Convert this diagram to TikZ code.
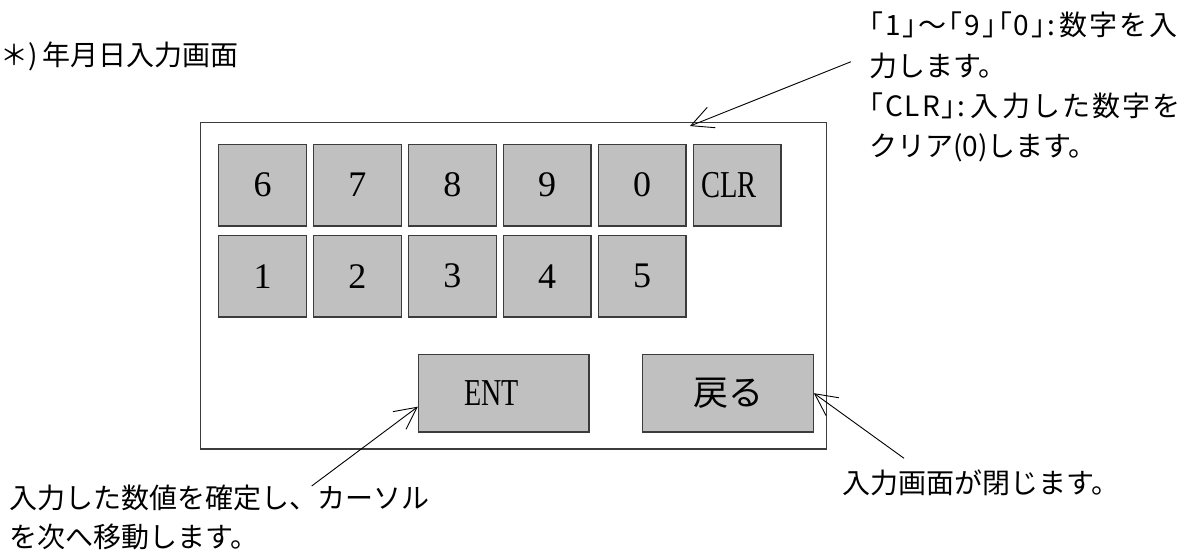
\documentclass[tikz,border=0pt]{standalone}
\usepackage{fontspec}
\setmainfont{Liberation Serif}
\newfontfamily\jpfont{Noto Sans CJK JP}
\usetikzlibrary{arrows.meta}
\definecolor{keygray}{HTML}{C0C0C0}
\definecolor{edgegray}{HTML}{3C3C3C}
\begin{document}
\begin{tikzpicture}[x=1pt,y=-1pt,
  keybox/.style={draw=edgegray, line width=1.3pt, fill=keygray,
    minimum width=87.7pt, minimum height=81.7pt, inner sep=0pt,
    font=\fontsize{36}{36}\selectfont},
  bigbtn/.style={keybox, minimum width=170.4pt, minimum height=77.7pt},
  note/.style={font=\jpfont\fontsize{28}{40}\selectfont, inner sep=0pt, anchor=base west},
  wide/.style={font=\jpfont\fontsize{28}{40}\selectfont\addfontfeature{LetterSpace=7}},
  callout/.style={-{Straight Barb[length=22pt,width=22pt]}, line width=0.9pt}]
\useasboundingbox (0,0) rectangle (1197,553);
\fill[white] (0,0) rectangle (1197,553);
% frame
\node[draw=edgegray, line width=1.3pt, minimum width=626.5pt, minimum height=326.3pt, inner sep=0pt] (frame) at (513.45,285.85) {};
% keys
\foreach \t [count=\i from 0] in {6,7,8,9,0}
  \node[keybox] (k\t) at (262.5+94.9*\i,185.2) {\t};
\node[keybox] (clr) at (737,185.2) {{\fontsize{38}{38}\selectfont\scalebox{0.75}[1]{CLR}}\hspace{15.6pt}\null};
\foreach \t [count=\i from 0] in {1,2,3,4,5}
  \node[keybox] (k\t) at (262.5+94.9*\i,276.2) {\t};
\node[bigbtn] (ent) at (503.7,393.2) {{\fontsize{38}{38}\selectfont\scalebox{0.74}[1]{ENT}}\hspace{24pt}\null};
\node[bigbtn, font=\jpfont\fontsize{35}{35}\selectfont] (back) at (728,393.2) {戻る};
% texts
\node[note] (title) at (0,66) {＊)\hspace{5pt}年月日入力画面};
\node[note, wide] (d1) at (869,36) {｢1｣～｢9｣｢0｣:\,数字を入};
\node[note] (d2) at (869,76.5) {力します。};
\node[note, wide] (d3) at (869,117) {｢CLR｣:\,入\,力した数字を};
\node[note] (d4) at (869,157) {クリア(0)します。};
\node[note] (e1) at (9,508.6) {入力した数値を確定し、カーソル};
\node[note] (e2) at (9,547.6) {を次へ移動します。};
\node[note] (b1) at (842,493.6) {入力画面が閉じます。};
% callouts
\coordinate (c1) at (851,61.7);
\coordinate (c2) at (311.7,486);
\coordinate (c3) at (904,458.3);
\draw[callout] (c1) -- ([xshift=176.55pt,yshift=-4pt]frame.north);
\draw[callout] (c2) -- ([yshift=-13.5pt]ent.west);
\draw[callout] (c3) -- (back.east);
\end{tikzpicture}
\end{document}
